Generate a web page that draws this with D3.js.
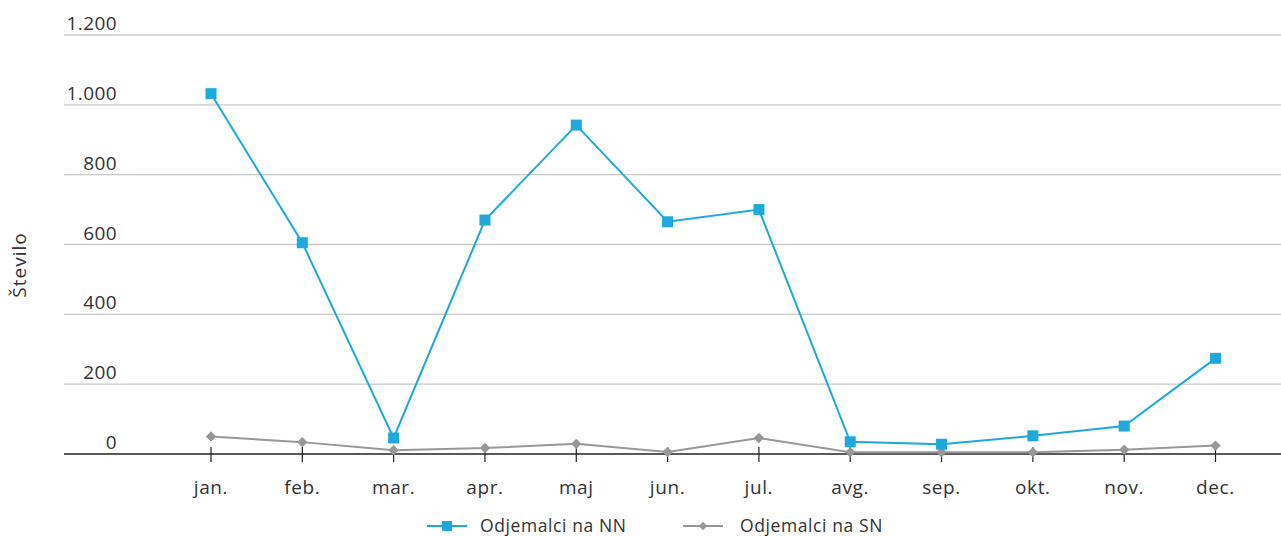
<!DOCTYPE html>
<html>
<head>
<meta charset="utf-8">
<script src="https://cdn.jsdelivr.net/npm/d3@7"></script>
<style>
  body { margin: 0; background: #fff; overflow: hidden; }
  svg { display: block; }
  svg text { font-family: "Open Sans", "DejaVu Sans", sans-serif; fill: #333; }
</style>
</head>
<body>
<div id="chart"></div>
<script>
/* Odjemalci na NN / SN po mesecih — črtni graf */
const MONTHS = ["jan.", "feb.", "mar.", "apr.", "maj", "jun.", "jul.", "avg.", "sep.", "okt.", "nov.", "dec."];
const NN = [1032, 605, 46, 670, 942, 665, 700, 35, 28, 52, 80, 274];
const SN = [50, 34, 11, 17, 29, 6, 46, 5, 5, 5, 12, 24];
const Y_TICKS = [0, 200, 400, 600, 800, 1000, 1200];
const SERIES_NAMES = ["Odjemalci na NN", "Odjemalci na SN"];

const W = 1281, H = 536;
const BLUE = "#1DA9DE", GRAY = "#97979A";

const svg = d3.select("#chart").append("svg")
  .attr("width", W).attr("height", H);

const x = d3.scalePoint().domain(MONTHS).range([211, 1215.5]);
const y = d3.scaleLinear().domain([0, 1200]).range([454, 35]);

/* mreža */
svg.append("g").selectAll("line")
  .data(Y_TICKS.filter(v => v > 0)).join("line")
  .attr("x1", 64).attr("x2", W)
  .attr("y1", d => y(d)).attr("y2", d => y(d))
  .attr("stroke", "#c8c8c8").attr("stroke-width", 1.3);

/* y oznake */
svg.append("g").selectAll("text")
  .data(Y_TICKS).join("text")
  .attr("x", 117).attr("y", d => y(d) - 5)
  .attr("text-anchor", "end")
  .attr("font-size", 19).attr("letter-spacing", 0.4)
  .text(d => d3.format(",")(d).replace(/,/g, "."));

/* x os */
svg.append("line")
  .attr("x1", 64).attr("x2", W).attr("y1", y(0)).attr("y2", y(0))
  .attr("stroke", "#222").attr("stroke-width", 1.3);
svg.append("g").selectAll("line")
  .data(MONTHS).join("line")
  .attr("x1", d => x(d)).attr("x2", d => x(d))
  .attr("y1", y(0) - 7).attr("y2", y(0) + 8)
  .attr("stroke", "#222").attr("stroke-width", 1.2);
svg.append("g").selectAll("text")
  .data(MONTHS).join("text")
  .attr("x", d => x(d)).attr("y", 494)
  .attr("text-anchor", "middle").attr("font-size", 19).attr("letter-spacing", 0.6)
  .text(d => d);

svg.append("text")
  .attr("transform", "translate(26,265) rotate(-90)")
  .attr("text-anchor", "middle").attr("font-size", 19).attr("letter-spacing", 1)
  .text("Število");

const line = d3.line().x((d, i) => x(MONTHS[i])).y(d => y(d));

/* SN */
svg.append("path").datum(SN)
  .attr("d", line).attr("fill", "none")
  .attr("stroke", GRAY).attr("stroke-width", 2);
svg.append("g").selectAll("path")
  .data(SN).join("path")
  .attr("d", d3.symbol(d3.symbolDiamond2, 70))
  .attr("transform", (d, i) => `translate(${x(MONTHS[i])},${y(d)})`)
  .attr("fill", GRAY);

/* NN */
svg.append("path").datum(NN)
  .attr("d", line).attr("fill", "none")
  .attr("stroke", BLUE).attr("stroke-width", 2);
svg.append("g").selectAll("rect")
  .data(NN).join("rect")
  .attr("x", (d, i) => x(MONTHS[i]) - 5.5).attr("y", d => y(d) - 5.5)
  .attr("width", 11).attr("height", 11)
  .attr("fill", BLUE);

/* legenda */
const legend = svg.append("g");
const LEG = [
  { name: SERIES_NAMES[0], color: BLUE, x0: 427, tx: 53, mark: "square" },
  { name: SERIES_NAMES[1], color: GRAY, x0: 683, tx: 57, mark: "diamond" }
];
LEG.forEach(l => {
  const g = legend.append("g").attr("transform", `translate(${l.x0},526)`);
  g.append("line").attr("x1", 0).attr("x2", 40).attr("stroke", l.color).attr("stroke-width", 2);
  if (l.mark === "square")
    g.append("rect").attr("x", 15).attr("y", -5).attr("width", 10).attr("height", 10).attr("fill", l.color);
  else
    g.append("path").attr("d", d3.symbol(d3.symbolDiamond2, 45)).attr("transform", "translate(20,0)").attr("fill", l.color);
  g.append("text").attr("x", l.tx).attr("y", 6).attr("font-size", 17.5).attr("letter-spacing", 0.6).text(l.name);
});
</script>
</body>
</html>
